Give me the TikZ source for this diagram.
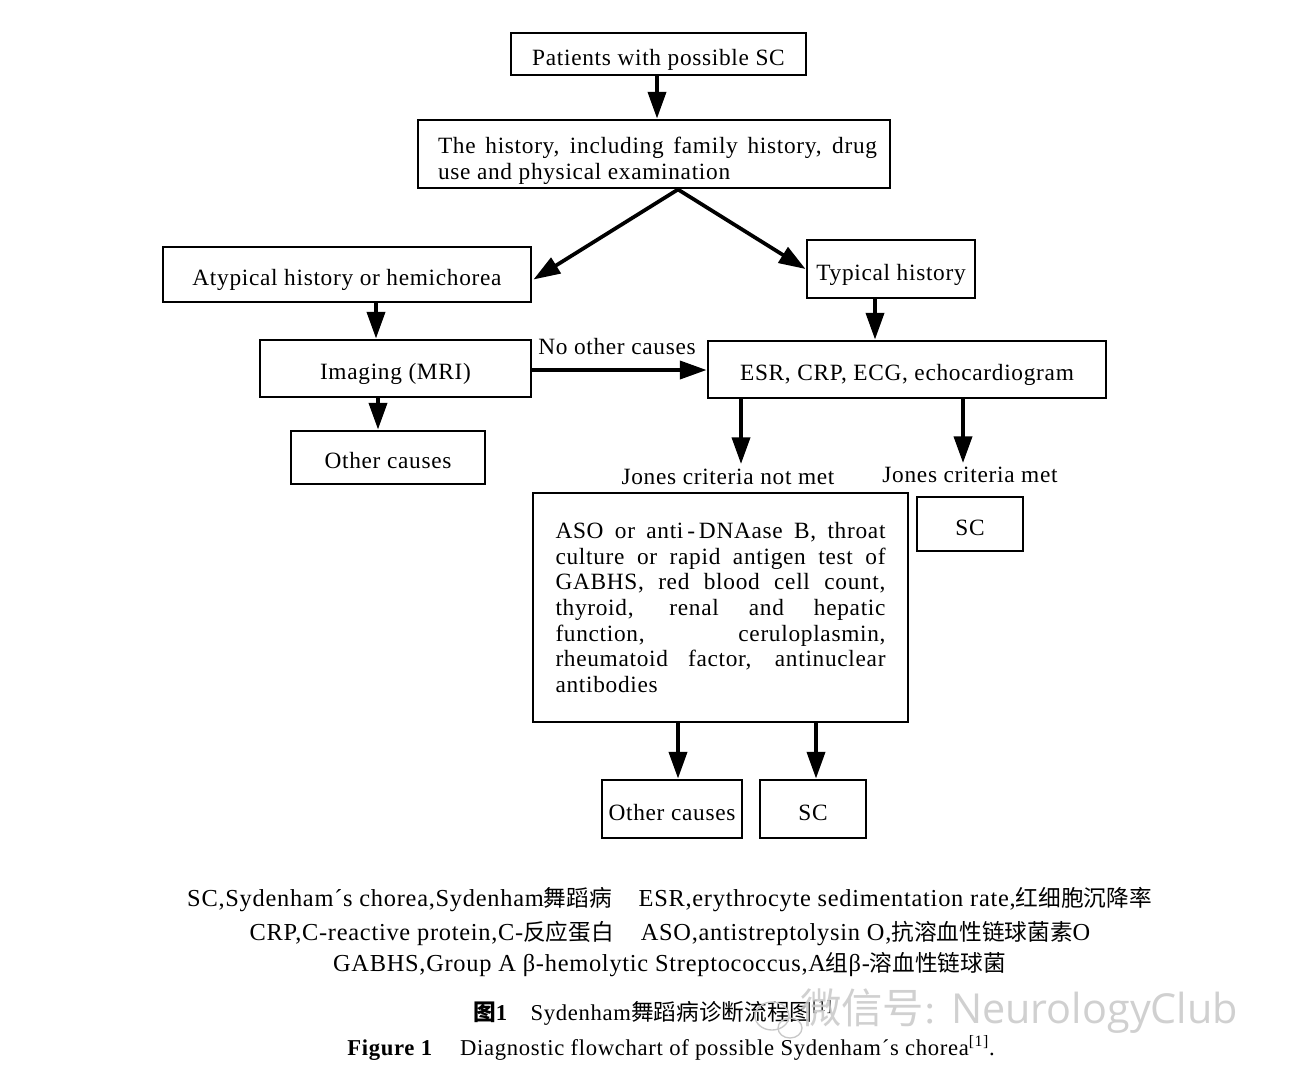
\documentclass[tikz,border=0pt]{standalone}
\usepackage{fontspec}
\setmainfont[LetterSpace=3]{Liberation Serif}
\newfontfamily\capfont[LetterSpace=3]{Liberation Serif}
\newfontfamily\cjk{Noto Sans CJK SC}
\newfontfamily\wmfont{Open Sans}
\newcommand\zhtxt[1]{{\cjk\fontsize{17}{19}\selectfont #1}}
\usetikzlibrary{arrows.meta,calc}
\definecolor{wmgray}{RGB}{200,200,200}
\begin{document}
\begin{tikzpicture}[x=0.75pt,y=-0.75pt,
  wh/.style 2 args={minimum width=#1*0.75pt, minimum height=#2*0.75pt},
  box/.style={draw, line width=2.2pt, inner sep=0pt, font=\fontsize{17.5}{19.2}\selectfont},
  one/.style={text height=17pt, text depth=0pt},
  lbl/.style={inner sep=0pt, font=\fontsize{17.5}{19.2}\selectfont},
  arr/.style={line width=2.8pt, -{Triangle[length=20pt,width=13.5pt]}},
  captxt/.style={inner sep=0pt, font=\fontsize{18.3}{20}\capfont},
  capsm/.style={inner sep=0pt, font=\fontsize{17}{19}\capfont}
]
\useasboundingbox (0,0) rectangle (1313,1083);
\fill[white] (0,0) rectangle (1313,1083);

% boxes
\node[box, one, wh={295}{42}] (p) at (658.5,54) {Patients with possible SC};
\node[box, wh={472}{68}] (h) at (654,154) {};
\node[lbl, text width=439*0.75pt, align=justify] (ht) at (657.5,161)
  {The history, including family history, drug\linebreak use and physical examination};
\node[box, one, wh={368}{55}] (at) at (347,274.5) {Atypical history or hemichorea};
\node[box, one, wh={168}{58}] (ty) at (891,269) {Typical history};
\node[box, one, wh={271}{57}] (im) at (395.5,368.5) {Imaging (MRI)};
\node[box, one, wh={398}{57}] (esr) at (907,369.5) {ESR, CRP, ECG, echocardiogram};
\node[box, one, wh={194}{53}] (oc1) at (388,457.5) {Other causes};
\node[box, wh={375}{229}, text width=330*0.75pt, align=justify] (big) at (720.5,607.5)
  {\hyphenpenalty=10000 ASO or anti\,-\,DNAase B, throat\linebreak
   culture or rapid antigen test of\linebreak
   GABHS, red blood cell count,\linebreak
   thyroid, renal and hepatic\linebreak
   function, ceruloplasmin,\linebreak
   rheumatoid factor, antinuclear\linebreak
   antibodies};
\node[box, one, wh={106}{54}] (sc1) at (970,524) {SC};
\node[box, one, wh={140}{58}] (oc2) at (672,809) {Other causes};
\node[box, one, wh={106}{58}] (sc2) at (813,809) {SC};

% labels
\node[lbl] (noc) at (617,347) {No other causes};
\node[lbl] (jnm) at (728,477) {Jones criteria not met};
\node[lbl] (jm) at (970,475) {Jones criteria met};

% connectors
\draw[arr] (p.south -| 657,0) -- (h.north -| 657,0);
\coordinate (hs) at ($(h.south)+(24,0)$);
\draw[arr] (hs) -- ($(at.east)+(1,5)$);
\draw[arr] (hs) -- (ty.west);
\coordinate (a1) at ($(at.south)+(29,0)$);
\draw[arr] (a1) -- (a1 |- im.north);
\coordinate (t1) at ($(ty.south)+(-16,0)$);
\draw[arr] (t1) -- (t1 |- esr.north);
\draw[arr] (im.east |- 0,370) -- (esr.west |- 0,370);
\coordinate (i1) at ($(im.south)+(-17.5,0)$);
\draw[arr] (i1) -- (i1 |- oc1.north);
\coordinate (e1) at ($(esr.south)+(-166,0)$);
\draw[arr] (e1) -- (e1 |- 0,464);
\coordinate (e2) at ($(esr.south)+(56,0)$);
\draw[arr] (e2) -- (e2 |- 0,463);
\coordinate (b1) at (678,722);
\draw[arr] (b1) -- (b1 |- oc2.north);
\coordinate (b2) at (816,722);
\draw[arr] (b2) -- (b2 |- sc2.north);

% caption
\node[captxt] (l1) at (669.5,900) {SC,Sydenham´s chorea,Sydenham\zhtxt{舞蹈病}\hspace{1.1em}ESR,erythrocyte sedimentation rate,\zhtxt{红细胞沉降率}};
\node[captxt] (l2) at (670,933) {CRP,C-reactive protein,C-\zhtxt{反应蛋白}\hspace{1.1em}ASO,antistreptolysin O,\zhtxt{抗溶血性链球菌素}O};
\node[captxt] (l3) at (669.5,965) {GABHS,Group A β-hemolytic Streptococcus,A\zhtxt{组}β-\zhtxt{溶血性链球菌}};
\node[capsm, anchor=west] (l4) at (473,1013) {{\cjk\bfseries 图}\textbf{1}\hspace{1em}Sydenham{\cjk 舞蹈病诊断流程图}\textsuperscript{[1]}};
\node[capsm] (l5) at (671,1048) {\textbf{Figure 1}\hspace{1.2em}Diagnostic flowchart of possible Sydenham´s chorea\textsuperscript{[1]}.};

% watermark
\draw[wmgray, line width=1pt] (772,1016) ellipse [x radius=17, y radius=14];
\draw[wmgray, line width=1pt] (790,1028) ellipse [x radius=12, y radius=10];
\node[inner sep=0pt, anchor=base west, text=wmgray, opacity=0.85, font=\fontsize{31}{34}\selectfont] (wm) at (800,1023) {{\cjk 微信号}: {\wmfont NeurologyClub}};
\end{tikzpicture}
\end{document}
